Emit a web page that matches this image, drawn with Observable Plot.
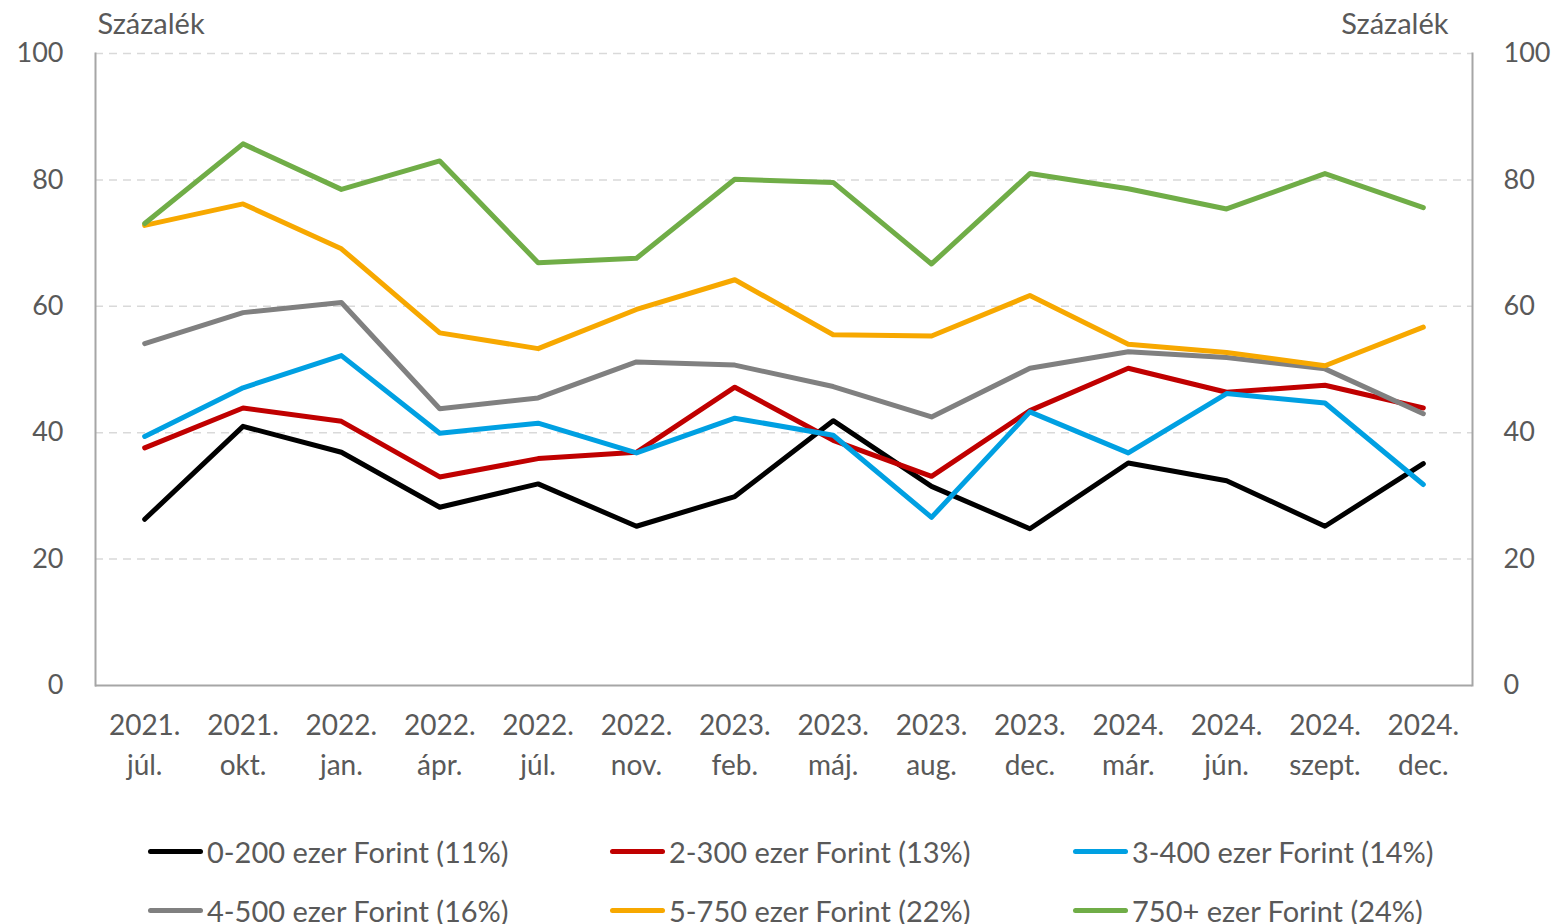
<!DOCTYPE html>
<html><head><meta charset="utf-8">
<script src="https://cdn.jsdelivr.net/npm/d3@7"></script>
<script src="https://cdn.jsdelivr.net/npm/@observablehq/plot@0.6"></script>
<style>
body{margin:0;background:#fff;font-family:Lato,sans-serif;}
#wrap{position:relative;width:1555px;height:924px;overflow:hidden;background:#fff;}
#chart{position:absolute;left:0;top:0;}
.item{position:absolute;display:flex;align-items:center;height:40px;font-size:29px;color:#595959;white-space:nowrap;}
.swatch{display:inline-block;width:55px;height:5px;border-radius:3px;margin-right:4px;}
</style></head><body><div id="wrap"><div id="chart"></div><div id="legend"></div></div>
<script>
const periods = ["2021.\njúl.","2021.\nokt.","2022.\njan.","2022.\nápr.","2022.\njúl.","2022.\nnov.","2023.\nfeb.","2023.\nmáj.","2023.\naug.","2023.\ndec.","2024.\nmár.","2024.\njún.","2024.\nszept.","2024.\ndec."];
const inc0_200   = [26.3,41.0,36.9,28.2,31.9,25.2,29.9,41.9,31.5,24.8,35.2,32.4,25.2,35.1];
const inc200_300 = [37.6,43.9,41.8,33.0,35.9,36.9,47.2,38.8,33.1,43.5,50.2,46.4,47.5,43.9];
const inc300_400 = [39.4,47.1,52.2,39.9,41.5,36.8,42.3,39.6,26.6,43.3,36.8,46.2,44.7,31.8];
const inc400_500 = [54.1,59.0,60.6,43.8,45.5,51.2,50.7,47.3,42.5,50.2,52.8,51.9,50.1,43.0];
const inc500_750 = [72.8,76.2,69.1,55.8,53.3,59.5,64.2,55.5,55.3,61.7,54.0,52.7,50.6,56.7];
const inc750plus = [73.1,85.7,78.5,83.0,66.9,67.6,80.1,79.6,66.7,81.0,78.6,75.4,81.0,75.6];
const seriesNames = ["0-200 ezer Forint (11%)","2-300 ezer Forint (13%)","3-400 ezer Forint (14%)","4-500 ezer Forint (16%)","5-750 ezer Forint (22%)","750+ ezer Forint (24%)"];
const seriesColors = ["#000000","#c00000","#00a0e2","#808080","#f7a800","#70ad47"];
const yTicks = [0,20,40,60,80,100];
const axisTitle = "Százalék";

const seriesValues = [inc0_200,inc200_300,inc300_400,inc400_500,inc500_750,inc750plus];
const data = [];
seriesValues.forEach((vals,i)=>vals.forEach((v,j)=>data.push({period:periods[j],value:v,series:seriesNames[i]})));

const chart = Plot.plot({
  width:1555, height:790,
  marginLeft:95, marginRight:83, marginTop:53, marginBottom:105,
  style:{fontFamily:"Lato, sans-serif", fontSize:"27px", color:"#595959", background:"white", overflow:"visible"},
  x:{type:"point", domain:periods, padding:0.5, round:false, label:null},
  y:{domain:[0,100], label:null},
  color:{domain:seriesNames, range:seriesColors},
  marks:[
    Plot.ruleY(yTicks.filter(d=>d>0), {stroke:"#d9d9d9", strokeWidth:1.5, strokeDasharray:"8,6"}),
    Plot.frame({anchor:"left", stroke:"#a6a6a6", strokeWidth:2}),
    Plot.frame({anchor:"right", stroke:"#a6a6a6", strokeWidth:2}),
    Plot.ruleY([0], {stroke:"#a6a6a6", strokeWidth:2}),
    Plot.axisY({anchor:"left", ticks:yTicks, tickSize:0, tickPadding:32, fill:"#595959"}),
    Plot.axisY({anchor:"right", ticks:yTicks, tickSize:0, tickPadding:31, fill:"#595959"}),
    Plot.axisX({tickSize:0, tickPadding:22, lineHeight:1.4, fontSize:28, fill:"#595959"}),
    Plot.line(data, {x:"period", y:"value", stroke:"series", strokeWidth:5, strokeLinejoin:"round", strokeLinecap:"round"}),
    Plot.text([axisTitle], {frameAnchor:"top-left", textAnchor:"start", lineAnchor:"middle", dx:2, dy:-29, fontSize:29, fill:"#595959"}),
    Plot.text([axisTitle], {frameAnchor:"top-right", textAnchor:"end", lineAnchor:"middle", dx:-24, dy:-29, fontSize:29, fill:"#595959"})
  ]
});
document.getElementById("chart").appendChild(chart);

const legend = document.getElementById("legend");
const legendPos = [[148,851],[610,851],[1073,851],[148,910],[610,910],[1073,910]];
seriesNames.forEach((name,i)=>{
  const it = document.createElement("div");
  it.className = "item";
  it.style.left = legendPos[i][0]+"px";
  it.style.top = (legendPos[i][1]-20)+"px";
  const sw = document.createElement("span");
  sw.className = "swatch";
  sw.style.background = seriesColors[i];
  it.appendChild(sw);
  it.appendChild(document.createTextNode(name));
  legend.appendChild(it);
});
</script>
</body></html>
